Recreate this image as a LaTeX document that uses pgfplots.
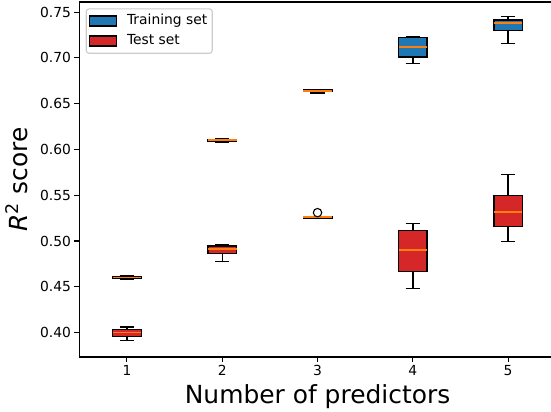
\documentclass[border=0pt]{standalone}
\usepackage{fontspec}
\setmainfont{DejaVu Sans}
\usepackage{pgfplots}
\pgfplotsset{compat=1.18}
\usepgfplotslibrary{statistics}

\definecolor{mplblue}{HTML}{1F77B4}
\definecolor{mplred}{HTML}{D62728}
\definecolor{mplorange}{HTML}{FF7F0E}

\pgfplotsset{
  mpbox/.style={
    black, line width=1.39bp, solid,
    boxplot/draw direction=y,
    boxplot/box extend=0.3,
    boxplot/whisker extend=0.15,
    boxplot/every box/.style={draw=black, fill=#1},
    boxplot/every median/.style={draw=none},
    mark=o, mark size=4.2bp, mark options={black, line width=1.1bp, fill=none},
    forget plot
  },
  % second pass: only the median, so that it lies on top of box and caps
  mpmed/.style={
    draw=none, solid,
    boxplot/draw direction=y,
    boxplot/box extend=0.3,
    boxplot/whisker extend=0.15,
    boxplot/every box/.style={draw=none, fill=none},
    boxplot/every whisker/.style={draw=none},
    boxplot/every median/.style={draw=mplorange, line width=1.7bp},
    mark=none,
    forget plot
  }
}

% #1 colour, #2 position, #3-#7 lower whisker .. upper whisker
\newcommand\mpboxplot[7]{%
  \addplot[mpbox=#1, boxplot prepared={draw position=#2,
    lower whisker=#3, lower quartile=#4, median=#5,
    upper quartile=#6, upper whisker=#7}] coordinates {};
  \addplot[mpmed, boxplot prepared={draw position=#2,
    lower whisker=#3, lower quartile=#4, median=#5,
    upper quartile=#6, upper whisker=#7}] coordinates {};
}

\begin{document}
\begin{tikzpicture}
\begin{axis}[
  at={(0,0)}, anchor=south west,
  scale only axis, width=471.7bp, height=355bp,
  xmin=0.5, xmax=5.45, ymin=0.3734, ymax=0.7610,
  axis x line*=box, axis y line*=left,
  xtick pos=bottom, ytick pos=left,
  xtick={1,2,3,4,5},
  ytick={0.40,0.45,0.50,0.55,0.60,0.65,0.70,0.75},
  tick align=outside,
  major tick length=4.9bp,
  tick style={black, line width=1.1bp},
  axis line style={black, line width=1.1bp},
  /pgf/number format/assume math mode=true,
  tick label style={font=\fontsize{13.9}{16}\selectfont},
  y tick label style={/pgf/number format/.cd, fixed, fixed zerofill, precision=2},
  xlabel={Number of predictors},
  ylabel={{\itshape R}\textsuperscript{2} score},
  label style={font=\fontsize{25}{30}\selectfont, inner sep=0pt},
  xlabel style={at={(axis description cs:0.50505,-0.1296)}, anchor=base},
  ylabel style={at={(axis description cs:-0.1088,0.5)}, anchor=base},
  legend style={at={(0,1)}, anchor=north west, xshift=6.4bp, yshift=-6.3bp,
    draw=black!20, fill=white, rounded corners=2.8bp, line width=1.1bp,
    font=\fontsize{13.9}{16}\selectfont,
    inner xsep=3bp, inner ysep=3.7bp, row sep=3bp, column sep=8bp,
    nodes={inner sep=2bp, text height=10bp, text depth=3bp}},
  legend cell align=left,
  legend image code/.code={\draw[#1, sharp corners] (0bp,-5bp) rectangle (26.7bp,5bp);},
]

\addlegendimage{draw=black, fill=mplblue, line width=1.1bp}
\addlegendentry{Training set}
\addlegendimage{draw=black, fill=mplred, line width=1.1bp}
\addlegendentry{Test set}

% training set
\mpboxplot{mplblue}{1}{0.4582}{0.4589}{0.4601}{0.4613}{0.4617}
\mpboxplot{mplblue}{2}{0.6078}{0.6090}{0.6101}{0.6110}{0.6113}
\mpboxplot{mplblue}{3}{0.6615}{0.6630}{0.6641}{0.6650}{0.6652}
\mpboxplot{mplblue}{4}{0.6937}{0.7009}{0.7122}{0.7221}{0.7235}
\mpboxplot{mplblue}{5}{0.7158}{0.7300}{0.7377}{0.7413}{0.7453}

% test set
\mpboxplot{mplred}{1}{0.3916}{0.3956}{0.4000}{0.4036}{0.4061}
\mpboxplot{mplred}{2}{0.4778}{0.4862}{0.4910}{0.4945}{0.4961}
\addplot[mpbox=mplred, boxplot prepared={draw position=3,
  lower whisker=0.5246, lower quartile=0.5249, median=0.5259,
  upper quartile=0.5268, upper whisker=0.5270}]
  table[row sep=\\, y index=0] {data\\ 0.5310\\};
\addplot[mpmed, boxplot prepared={draw position=3,
  lower whisker=0.5246, lower quartile=0.5249, median=0.5259,
  upper quartile=0.5268, upper whisker=0.5270}] coordinates {};
\mpboxplot{mplred}{4}{0.4484}{0.4666}{0.4906}{0.5117}{0.5190}
\mpboxplot{mplred}{5}{0.4993}{0.5157}{0.5317}{0.5499}{0.5728}

\end{axis}
\pgfresetboundingbox
\path[use as bounding box] (-79.3bp,-55bp) rectangle (471.7bp,357bp);
\end{tikzpicture}
\end{document}
